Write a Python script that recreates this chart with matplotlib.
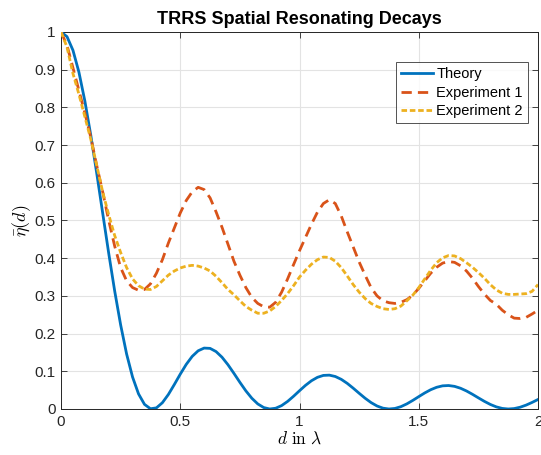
import numpy as np
import matplotlib
matplotlib.use("Agg")
import matplotlib.pyplot as plt

plt.rcParams["font.family"] = ["Liberation Sans", "DejaVu Sans"]
plt.rcParams["mathtext.fontset"] = "cm"

# separation d (in wavelengths), sampled every 0.025
d = np.linspace(0, 2, 81)

theory = [1.0, 0.98772, 0.95156, 0.89350, 0.81670, 0.72528, 0.62404, 0.51816, 0.41282, 0.31293,
          0.22297, 0.14582, 0.08463, 0.04003, 0.01229, 0.00066, 0.00301, 0.01670, 0.03842, 0.06486,
          0.09250, 0.11833, 0.13957, 0.15440, 0.16159, 0.16078, 0.15232, 0.13734, 0.11738, 0.09451,
          0.07070, 0.04811, 0.02854, 0.01344, 0.00382, 0.00006, 0.00203, 0.00908, 0.02014, 0.03380,
          0.04851, 0.06269, 0.07489, 0.08398, 0.08909, 0.08981, 0.08620, 0.07866, 0.06801, 0.05527,
          0.04173, 0.02858, 0.01701, 0.00798, 0.00219, 0.00002, 0.00147, 0.00620, 0.01362, 0.02282,
          0.03283, 0.04260, 0.05114, 0.05761, 0.06145, 0.06227, 0.06005, 0.05507, 0.04783, 0.03905,
          0.02956, 0.02032, 0.01210, 0.00566, 0.00152, 0.00001, 0.00114, 0.00471, 0.01032, 0.01740,
          0.02525]

exp1 = [1.0, 0.965, 0.905, 0.845, 0.785, 0.72, 0.645, 0.575, 0.50, 0.432,
        0.375, 0.34, 0.322, 0.315, 0.317, 0.332, 0.36, 0.396, 0.44, 0.48,
        0.52, 0.553, 0.576, 0.588, 0.582, 0.56, 0.523, 0.482, 0.437, 0.392,
        0.355, 0.322, 0.296, 0.28, 0.271, 0.27, 0.283, 0.31, 0.345, 0.383,
        0.42, 0.455, 0.49, 0.522, 0.545, 0.555, 0.545, 0.512, 0.47, 0.43,
        0.39, 0.355, 0.322, 0.30, 0.287, 0.282, 0.28, 0.283, 0.29, 0.302,
        0.32, 0.34, 0.36, 0.376, 0.387, 0.391, 0.389, 0.38, 0.366, 0.347,
        0.325, 0.305, 0.288, 0.278, 0.262, 0.25, 0.241, 0.24, 0.243, 0.252,
        0.262]

exp2 = [1.0, 0.96, 0.89, 0.835, 0.775, 0.715, 0.645, 0.575, 0.515, 0.46,
        0.415, 0.375, 0.345, 0.327, 0.318, 0.317, 0.325, 0.34, 0.355, 0.366,
        0.374, 0.379, 0.381, 0.379, 0.374, 0.366, 0.352, 0.335, 0.317, 0.303,
        0.287, 0.272, 0.262, 0.254, 0.254, 0.26, 0.272, 0.288, 0.306, 0.327,
        0.35, 0.368, 0.384, 0.396, 0.403, 0.402, 0.392, 0.375, 0.353, 0.33,
        0.31, 0.293, 0.28, 0.272, 0.266, 0.264, 0.266, 0.273, 0.287, 0.302,
        0.322, 0.345, 0.368, 0.388, 0.401, 0.407, 0.406, 0.399, 0.388, 0.376,
        0.362, 0.347, 0.33, 0.316, 0.307, 0.304, 0.304, 0.305, 0.306, 0.312,
        0.33]

xticks = [0, 0.5, 1, 1.5, 2]
xticklabels = ["0", "0.5", "1", "1.5", "2"]
yticks = np.round(np.arange(0, 1.01, 0.1), 1)
yticklabels = ["0"] + [f"{v:g}" for v in yticks[1:-1]] + ["1"]

fig = plt.figure(figsize=(5.41, 4.55), dpi=100)
ax = fig.add_axes([0.1128, 0.1011, 0.8817, 0.8286])

ax.plot(d, theory, color="#0072BD", lw=2, label="Theory", zorder=3)
ax.plot(d, exp1, color="#D95319", lw=2, dashes=(3.7, 2.2), label="Experiment 1", zorder=3)
ax.plot(d, exp2, color="#EDB120", lw=2, dashes=(2.0, 1.0), label="Experiment 2", zorder=3)

ax.set_xlim(0, 2)
ax.set_ylim(0, 1)
ax.set_xticks(xticks)
ax.set_xticklabels(xticklabels)
ax.set_yticks(yticks)
ax.set_yticklabels(yticklabels)
ax.tick_params(direction="in", top=True, right=True, labelsize=11, colors="#262626",
               length=4, width=0.6, pad=4)
ax.grid(True, color="#e3e3e3", lw=0.8)
ax.set_axisbelow(True)
for s in ax.spines.values():
    s.set_color("#262626")
    s.set_linewidth(0.7)

ax.set_title("TRRS Spatial Resonating Decays", fontsize=13, fontweight="bold", pad=6)
ax.set_xlabel(r"$d\ \mathrm{in}\ \lambda$", fontsize=12.5, labelpad=1)
ax.set_ylabel(r"$\bar{\eta}(d)$", fontsize=13, labelpad=1)

leg = ax.legend(loc="upper right", bbox_to_anchor=(0.979, 0.92), fontsize=10.5, frameon=True,
                fancybox=False, handlelength=2.2, handletextpad=0.2, borderpad=0.35,
                labelspacing=0.3, borderaxespad=0)
leg.get_frame().set_edgecolor("#262626")
leg.get_frame().set_linewidth(0.7)

fig.savefig("out.png", dpi=100)
